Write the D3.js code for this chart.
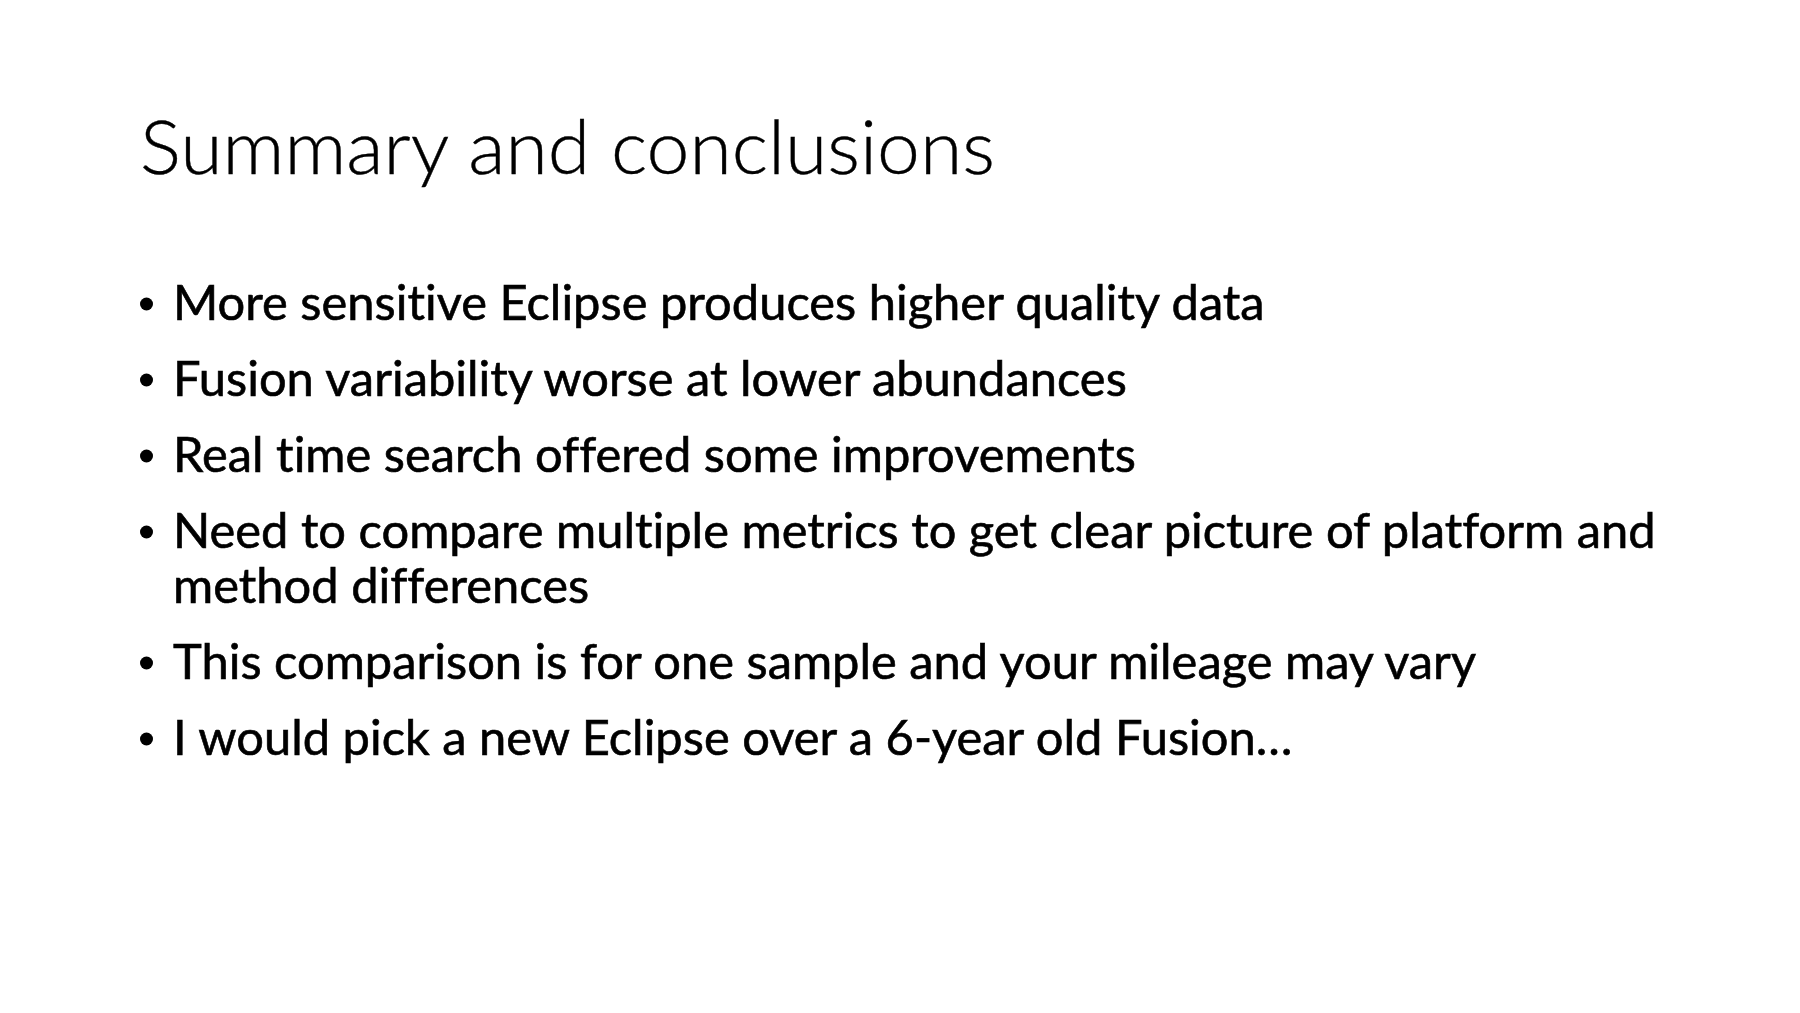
<!DOCTYPE html>
<html>
<head>
<meta charset="utf-8">
<script src="https://cdn.jsdelivr.net/npm/d3@7"></script>
<style>
  body { margin: 0; background: #fff; }
  text { font-variant-ligatures: none; font-feature-settings: "liga" 0, "clig" 0; }
</style>
</head>
<body>
<svg id="slide"></svg>
<script>
const title = "Summary and conclusions";

// each bullet is a list of its wrapped lines
const bullets = [
  ["More sensitive Eclipse produces higher quality data"],
  ["Fusion variability worse at lower abundances"],
  ["Real time search offered some improvements"],
  ["Need to compare multiple metrics to get clear picture of platform and", "method differences"],
  ["This comparison is for one sample and your mileage may vary"],
  ["I would pick a new Eclipse over a 6-year old Fusion\u2026"]
];

const W = 1800, H = 1013;
const font = "Lato, 'Open Sans', sans-serif";

const svg = d3.select("#slide").attr("width", W).attr("height", H);
svg.append("rect").attr("width", W).attr("height", H).attr("fill", "#fff");

// title, Calibri Light look-alike squeezed to the original width
const titleG = svg.append("g");
const titleText = titleG.append("text")
  .attr("x", 0).attr("y", 0)
  .attr("font-family", font)
  .attr("font-weight", 300)
  .attr("font-size", 74)
  .attr("fill", "#000")
  .attr("stroke", "#000")
  .attr("stroke-width", 0.4)
  .text(title);
const titleSx = 855 / titleText.node().getComputedTextLength();
titleG.attr("transform", `translate(140,174) scale(${titleSx},1)`);

// flatten bullets into lines with a running baseline
const lines = [];
let y = 320;
bullets.forEach((b) => {
  b.forEach((t, j) => {
    lines.push({ text: t, first: j === 0, y });
    y += j < b.length - 1 ? 55 : 0;
  });
  y += 76;
});

const body = svg.append("g");
const rows = body.selectAll("g.line")
  .data(lines)
  .join("g")
  .attr("class", "line");

const txt = rows.append("text")
  .attr("x", 0).attr("y", 0)
  .attr("font-family", font)
  .attr("font-size", 47.5)
  .attr("fill", "#000")
  .attr("stroke", "#000")
  .attr("stroke-width", 0.6)
  .text(d => d.text);

// one squeeze factor from the longest line, used for every line
const longest = d3.max(txt.nodes(), n => n.getComputedTextLength());
const bodySx = 1483 / longest;
rows.attr("transform", d => `translate(173,${d.y}) scale(${bodySx},1)`);

svg.selectAll("circle.bullet")
  .data(lines.filter(d => d.first))
  .join("circle")
  .attr("class", "bullet")
  .attr("cx", 146.5)
  .attr("cy", d => d.y - 16)
  .attr("r", 6.5)
  .attr("fill", "#000");
</script>
</body>
</html>
